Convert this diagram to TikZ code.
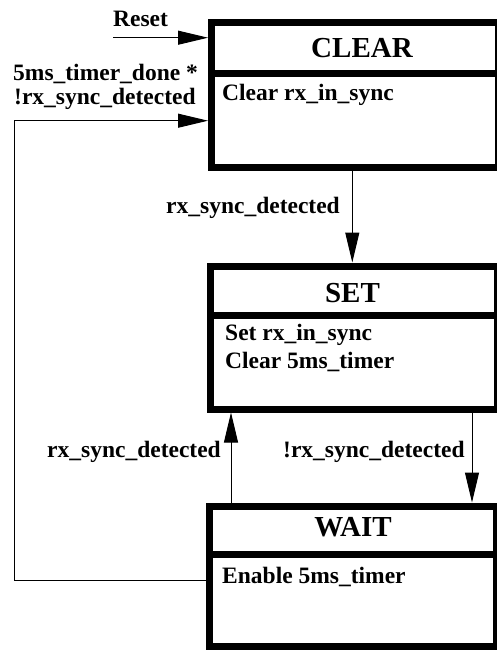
\documentclass[tikz,border=0pt]{standalone}
\usepackage{fontspec}
\setmainfont{Liberation Serif}
\usetikzlibrary{arrows.meta}

\tikzset{
  statebox/.style={draw, line width=7pt, inner sep=0pt, rectangle},
  divider/.style={line width=7pt},
  conn/.style={line width=1pt},
  arr/.style={conn, -{Triangle[length=30pt,width=14pt]}},
  title/.style={font=\fontsize{29}{32}\selectfont\bfseries, inner sep=0pt, anchor=base},
  txt/.style={font=\fontsize{23.5}{27}\selectfont\bfseries, inner sep=0pt, anchor=base west}
}

\begin{document}
\begin{tikzpicture}[x=1pt,y=-1pt]
  \useasboundingbox (0,0) rectangle (497,651);
  \clip (0,0) rectangle (497,651);

  % state boxes
  \node[statebox, minimum width=287pt, minimum height=145pt] (clear) at (355,95) {};
  \node[statebox, minimum width=287pt, minimum height=143pt] (set) at (354,337.5) {};
  \node[statebox, minimum width=287.5pt, minimum height=140.5pt] (wait) at (352.75,576.25) {};

  % dividers between title and action parts
  \draw[divider] (211.5,73.5) -- (498.5,73.5);
  \draw[divider] (210.5,315) -- (497.5,315);
  \draw[divider] (209,554.5) -- (496.5,554.5);

  % titles
  \node[title] (tclear) at (362,57) {CLEAR};
  \node[title] (tset) at (352.5,302) {SET};
  \node[title] (twait) at (353,536) {WAIT};

  % actions
  \node[txt] (aclear) at (222,100) {Clear rx\_in\_sync};
  \node[txt] (aset1) at (225,340) {Set rx\_in\_sync};
  \node[txt] (aset2) at (225,368) {Clear 5ms\_timer};
  \node[txt] (await) at (222,583) {Enable 5ms\_timer};

  % reset entry
  \coordinate (rs) at (113,37.7);
  \node[txt] (lreset) at (113,26) {Reset};
  \draw[arr] (rs) -- (rs -| clear.west);

  % timeout back to CLEAR (two-line label, anchored on its lower baseline)
  \coordinate (fb1) at (14,580);
  \coordinate (fb2) at (14,120.7);
  \draw[arr] (fb1 -| wait.west) -- (fb1) -- (fb2) -- (fb2 -| clear.west);
  \node[txt, align=left, font=\fontsize{23.5}{23.5}\selectfont\bfseries] (ltimeout) at (13,104)
    {5ms\_timer\_done *\\[0pt]\hspace*{1pt}!rx\_sync\_detected};

  % CLEAR -> SET
  \coordinate (c1) at (352.3,0);
  \draw[arr] (c1 |- clear.south) -- (c1 |- set.north);
  \node[txt] (lcs) at (166,213) {rx\_sync\_detected};

  % SET -> WAIT
  \coordinate (c2) at (472,0);
  \draw[arr] (c2 |- set.south) -- (c2 |- wait.north);
  \node[txt] (lsw) at (283,457) {!rx\_sync\_detected};

  % WAIT -> SET
  \coordinate (c3) at (231,0);
  \draw[arr] (c3 |- wait.north) -- (c3 |- set.south);
  \node[txt] (lws) at (47,457) {rx\_sync\_detected};
\end{tikzpicture}
\end{document}
